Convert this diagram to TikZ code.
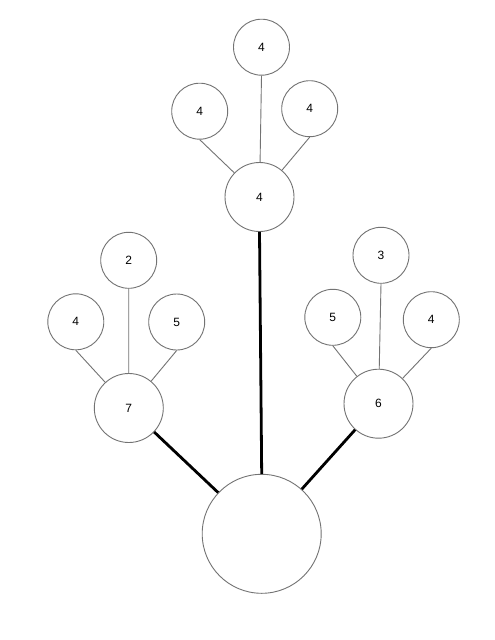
\documentclass[tikz,border=0pt]{standalone}
\usepackage{fontspec}
\setmainfont{Liberation Sans}
\definecolor{ringgray}{RGB}{115,115,115}

\begin{document}
\begin{tikzpicture}[x=1pt,y=-1pt,
  circ/.style={circle,draw=ringgray,line width=0.9pt,inner sep=0pt,
    font=\fontsize{12}{14}\selectfont},
  leaf/.style={circ,minimum size=56pt},
  mid/.style={circ,minimum size=69pt},
  big/.style={circ,minimum size=119pt},
  twig/.style={draw=ringgray,line width=0.9pt},
  branch/.style={draw=black,line width=2.8pt}]
 \useasboundingbox[fill=white] (0,0) rectangle (495,640);

 % root and its three sub-trees
 \node[big] (root) at (261.7,533.8) {};
 \node[mid] (seven) at (128.8,408) {7};
 \node[mid] (six) at (378.5,403.7) {6};
 \node[mid] (four) at (259.5,197) {4};

 % leaves
 \node[leaf] (l2) at (128.7,260.3) {2};
 \node[leaf] (l4) at (75.8,321.8) {4};
 \node[leaf] (l5) at (176.7,322) {5};
 \node[leaf] (r3) at (381,255.3) {3};
 \node[leaf] (r5) at (332.8,317.3) {5};
 \node[leaf] (r4) at (431.3,319.7) {4};
 \node[leaf] (t4) at (261.5,47.2) {4};
 \node[leaf] (t4l) at (199.7,111.2) {4};
 \node[leaf] (t4r) at (309.7,108.7) {4};

 \draw[branch] (root) -- (seven);
 \draw[branch] (root.north) -- (four.south);
 \draw[branch] (root) -- (six);

 \draw[twig] (seven) -- (l4.south);
 \draw[twig] (seven) -- (l2.south);
 \draw[twig] (seven) -- (l5.south);
 \draw[twig] (six) -- (r5.south);
 \draw[twig] (six) -- (r3.south);
 \draw[twig] (six) -- (r4.south);
 \draw[twig] (four) -- (t4l.south);
 \draw[twig] (four) -- (t4.south);
 \draw[twig] (four) -- (t4r.south);
\end{tikzpicture}
\end{document}
